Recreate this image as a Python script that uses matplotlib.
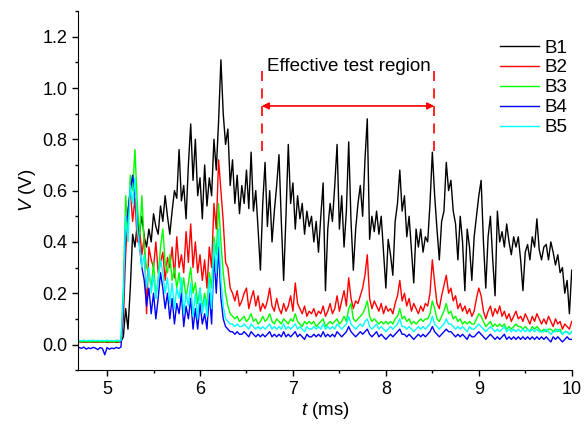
import matplotlib

matplotlib.use("Agg")

import numpy as np
import matplotlib.pyplot as plt
from matplotlib.ticker import MultipleLocator

plt.rcParams["font.family"] = ["Liberation Sans", "DejaVu Sans"]
plt.rcParams["mathtext.fontset"] = "custom"
plt.rcParams["mathtext.rm"] = "Liberation Sans"
plt.rcParams["mathtext.it"] = "Liberation Sans:italic"

B1 = [
    0.012, 0.010, 0.011, 0.009, 0.012, 0.010, 0.011, 0.009, 0.010, 0.012,
    0.010, 0.011, 0.009, 0.012, 0.010, 0.011, 0.009, 0.010, 0.012, 0.030,
    0.14, 0.06, 0.22, 0.43, 0.38, 0.47, 0.44, 0.50, 0.42, 0.38,
    0.45, 0.40, 0.51, 0.46, 0.43, 0.54, 0.48, 0.58, 0.50, 0.43,
    0.52, 0.60, 0.57, 0.76, 0.56, 0.62, 0.49, 0.70, 0.86, 0.64,
    0.80, 0.58, 0.65, 0.49, 0.70, 0.54, 0.65, 0.58, 0.80, 0.68,
    0.87, 1.11, 0.90, 0.78, 0.84, 0.62, 0.72, 0.55, 0.66, 0.51,
    0.62, 0.55, 0.68, 0.53, 0.75, 0.52, 0.60, 0.45, 0.29, 0.55,
    0.71, 0.46, 0.60, 0.40, 0.52, 0.62, 0.74, 0.48, 0.25, 0.50,
    0.78, 0.55, 0.63, 0.45, 0.58, 0.49, 0.55, 0.43, 0.52, 0.46,
    0.50, 0.40, 0.48, 0.36, 0.50, 0.63, 0.21, 0.45, 0.55, 0.48,
    0.62, 0.78, 0.45, 0.58, 0.38, 0.52, 0.79, 0.48, 0.29, 0.45,
    0.55, 0.62, 0.50, 0.72, 0.88, 0.41, 0.50, 0.44, 0.52, 0.43,
    0.50, 0.36, 0.22, 0.41, 0.35, 0.27, 0.48, 0.55, 0.68, 0.52,
    0.58, 0.42, 0.50, 0.37, 0.24, 0.45, 0.38, 0.45, 0.36, 0.42,
    0.40, 0.55, 0.75, 0.58, 0.45, 0.33, 0.48, 0.52, 0.71, 0.60,
    0.64, 0.52, 0.47, 0.33, 0.50, 0.40, 0.21, 0.45, 0.38, 0.25,
    0.42, 0.50, 0.58, 0.64, 0.40, 0.22, 0.42, 0.50, 0.33, 0.19,
    0.52, 0.40, 0.44, 0.38, 0.47, 0.40, 0.35, 0.42, 0.38, 0.42,
    0.33, 0.21, 0.36, 0.39, 0.33, 0.42, 0.38, 0.49, 0.37, 0.33,
    0.38, 0.39, 0.33, 0.40, 0.36, 0.31, 0.35, 0.28, 0.30, 0.20,
    0.25, 0.12, 0.29,
]
B2 = [
    0.010, 0.008, 0.011, 0.009, 0.010, 0.008, 0.011, 0.009, 0.010, 0.009,
    0.010, 0.009, 0.011, 0.008, 0.010, 0.009, 0.011, 0.010, 0.012, 0.10,
    0.35, 0.52, 0.60, 0.48, 0.57, 0.40, 0.45, 0.35, 0.42, 0.12,
    0.38, 0.33, 0.30, 0.40, 0.28, 0.32, 0.36, 0.25, 0.34, 0.30,
    0.38, 0.26, 0.42, 0.30, 0.35, 0.28, 0.44, 0.32, 0.47, 0.30,
    0.40, 0.28, 0.35, 0.25, 0.33, 0.22, 0.38, 0.30, 0.55, 0.45,
    0.72, 0.60, 0.48, 0.32, 0.30, 0.22, 0.20, 0.17, 0.21, 0.15,
    0.17, 0.20, 0.22, 0.14, 0.18, 0.21, 0.15, 0.19, 0.13, 0.16,
    0.14, 0.17, 0.22, 0.15, 0.13, 0.18, 0.14, 0.12, 0.16, 0.13,
    0.15, 0.19, 0.13, 0.24, 0.16, 0.14, 0.12, 0.15, 0.11, 0.13,
    0.12, 0.14, 0.11, 0.13, 0.12, 0.15, 0.11, 0.13, 0.16, 0.12,
    0.14, 0.19, 0.13, 0.17, 0.21, 0.15, 0.26, 0.18, 0.14, 0.17,
    0.16, 0.19, 0.22, 0.27, 0.35, 0.18, 0.14, 0.17, 0.15, 0.13,
    0.16, 0.12, 0.15, 0.13, 0.14, 0.12, 0.16, 0.19, 0.25, 0.17,
    0.20, 0.15, 0.18, 0.13, 0.16, 0.14, 0.12, 0.15, 0.13, 0.16,
    0.15, 0.20, 0.33, 0.24, 0.16, 0.14, 0.19, 0.23, 0.27, 0.20,
    0.22, 0.17, 0.19, 0.14, 0.16, 0.13, 0.15, 0.12, 0.14, 0.11,
    0.13, 0.18, 0.22, 0.19, 0.13, 0.10, 0.13, 0.15, 0.11, 0.14,
    0.12, 0.15, 0.11, 0.13, 0.10, 0.12, 0.09, 0.11, 0.13, 0.10,
    0.11, 0.09, 0.12, 0.10, 0.08, 0.11, 0.09, 0.12, 0.10, 0.08,
    0.10, 0.08, 0.11, 0.09, 0.07, 0.10, 0.08, 0.09, 0.06, 0.08,
    0.07, 0.06, 0.09,
]
B3 = [
    0.012, 0.010, 0.013, 0.011, 0.012, 0.010, 0.013, 0.011, 0.012, 0.011,
    0.012, 0.010, 0.013, 0.011, 0.012, 0.010, 0.013, 0.011, 0.020, 0.22,
    0.58, 0.45, 0.66, 0.60, 0.76, 0.55, 0.42, 0.58, 0.38, 0.30,
    0.28, 0.22, 0.32, 0.18, 0.26, 0.38, 0.45, 0.32, 0.28, 0.35,
    0.25, 0.30, 0.22, 0.28, 0.20, 0.26, 0.18, 0.24, 0.30, 0.20,
    0.24, 0.16, 0.22, 0.14, 0.20, 0.15, 0.28, 0.22, 0.42, 0.35,
    0.55, 0.40, 0.28, 0.20, 0.15, 0.12, 0.11, 0.10, 0.11, 0.09,
    0.10, 0.11, 0.09, 0.10, 0.12, 0.09, 0.10, 0.08, 0.09, 0.11,
    0.09, 0.10, 0.12, 0.09, 0.08, 0.10, 0.09, 0.08, 0.10, 0.09,
    0.08, 0.10, 0.09, 0.12, 0.09, 0.08, 0.07, 0.09, 0.08, 0.09,
    0.08, 0.09, 0.07, 0.08, 0.09, 0.10, 0.07, 0.08, 0.09, 0.08,
    0.09, 0.10, 0.08, 0.09, 0.11, 0.09, 0.14, 0.16, 0.10, 0.09,
    0.10, 0.11, 0.12, 0.14, 0.17, 0.11, 0.09, 0.10, 0.09, 0.08,
    0.09, 0.08, 0.09, 0.08, 0.09, 0.08, 0.10, 0.11, 0.14, 0.10,
    0.11, 0.09, 0.10, 0.08, 0.09, 0.08, 0.09, 0.10, 0.09, 0.10,
    0.10, 0.12, 0.17, 0.14, 0.10, 0.09, 0.11, 0.13, 0.16, 0.12,
    0.13, 0.10, 0.11, 0.09, 0.10, 0.08, 0.09, 0.08, 0.09, 0.08,
    0.08, 0.10, 0.12, 0.11, 0.09, 0.07, 0.08, 0.09, 0.07, 0.08,
    0.07, 0.08, 0.07, 0.08, 0.06, 0.07, 0.06, 0.07, 0.08, 0.07,
    0.07, 0.06, 0.07, 0.06, 0.05, 0.07, 0.06, 0.07, 0.06, 0.05,
    0.06, 0.05, 0.06, 0.06, 0.05, 0.06, 0.05, 0.06, 0.04, 0.05,
    0.05, 0.04, 0.05,
]
B4 = [
    -0.012, -0.015, -0.010, -0.018, -0.013, -0.016, -0.011, -0.014, -0.020, -0.012,
    -0.015, -0.040, -0.012, -0.018, -0.014, -0.016, -0.011, -0.015, -0.010, 0.15,
    0.45, 0.52, 0.60, 0.66, 0.58, 0.48, 0.38, 0.30, 0.25, 0.15,
    0.22, 0.12, 0.20, 0.10, 0.18, 0.28, 0.22, 0.14, 0.20, 0.10,
    0.18, 0.08, 0.16, 0.12, 0.20, 0.07, 0.15, 0.10, 0.18, 0.06,
    0.14, 0.06, 0.16, 0.08, 0.12, 0.06, 0.20, 0.08, 0.35, 0.20,
    0.38, 0.18, 0.10, 0.07, 0.06, 0.05, 0.05, 0.04, 0.05, 0.04,
    0.04, 0.05, 0.04, 0.03, 0.05, 0.04, 0.03, 0.04, 0.03, 0.04,
    0.03, 0.04, 0.05, 0.03, 0.04, 0.03, 0.04, 0.03, 0.05, 0.03,
    0.04, 0.03, 0.04, 0.05, 0.03, 0.04, 0.03, 0.02, 0.04, 0.03,
    0.03, 0.04, 0.03, 0.04, 0.03, 0.05, 0.03, 0.04, 0.03, 0.04,
    0.03, 0.05, 0.04, 0.03, 0.04, 0.05, 0.07, 0.05, 0.04, 0.03,
    0.04, 0.05, 0.04, 0.05, 0.06, 0.04, 0.03, 0.04, 0.05, 0.03,
    0.04, 0.03, 0.02, 0.03, 0.04, 0.03, 0.04, 0.05, 0.06, 0.04,
    0.04, 0.03, 0.04, 0.03, 0.02, 0.03, 0.04, 0.03, 0.04, 0.03,
    0.04, 0.05, 0.07, 0.05, 0.04, 0.03, 0.04, 0.05, 0.06, 0.05,
    0.05, 0.04, 0.03, 0.04, 0.03, 0.04, 0.03, 0.02, 0.04, 0.03,
    0.03, 0.04, 0.05, 0.04, 0.03, 0.02, 0.03, 0.04, 0.03, 0.02,
    0.03, 0.02, 0.03, 0.04, 0.02, 0.03, 0.02, 0.03, 0.02, 0.03,
    0.02, 0.03, 0.02, 0.03, 0.02, 0.03, 0.02, 0.03, 0.02, 0.03,
    0.02, 0.03, 0.02, 0.01, 0.03, 0.02, 0.03, 0.02, 0.01, 0.02,
    0.03, 0.02, 0.02,
]
B5 = [
    0.016, 0.015, 0.017, 0.014, 0.016, 0.015, 0.017, 0.014, 0.016, 0.015,
    0.016, 0.014, 0.017, 0.015, 0.016, 0.014, 0.017, 0.015, 0.016, 0.18,
    0.50, 0.40, 0.62, 0.55, 0.65, 0.45, 0.38, 0.30, 0.35, 0.22,
    0.30, 0.20, 0.27, 0.18, 0.25, 0.33, 0.28, 0.20, 0.26, 0.16,
    0.24, 0.14, 0.22, 0.18, 0.26, 0.12, 0.20, 0.15, 0.24, 0.11,
    0.20, 0.10, 0.22, 0.12, 0.18, 0.11, 0.26, 0.14, 0.40, 0.28,
    0.45, 0.25, 0.15, 0.10, 0.09, 0.08, 0.08, 0.07, 0.08, 0.07,
    0.07, 0.08, 0.07, 0.06, 0.08, 0.07, 0.06, 0.07, 0.06, 0.07,
    0.06, 0.07, 0.08, 0.06, 0.07, 0.06, 0.07, 0.06, 0.08, 0.06,
    0.07, 0.06, 0.07, 0.08, 0.06, 0.07, 0.06, 0.05, 0.07, 0.06,
    0.06, 0.07, 0.06, 0.07, 0.06, 0.08, 0.06, 0.07, 0.06, 0.07,
    0.06, 0.08, 0.07, 0.06, 0.07, 0.08, 0.11, 0.08, 0.07, 0.06,
    0.07, 0.08, 0.07, 0.09, 0.10, 0.07, 0.06, 0.07, 0.08, 0.06,
    0.07, 0.06, 0.05, 0.06, 0.07, 0.06, 0.07, 0.08, 0.10, 0.07,
    0.07, 0.06, 0.07, 0.06, 0.05, 0.06, 0.07, 0.06, 0.07, 0.06,
    0.07, 0.08, 0.11, 0.08, 0.07, 0.06, 0.07, 0.08, 0.10, 0.08,
    0.08, 0.07, 0.06, 0.07, 0.06, 0.07, 0.06, 0.05, 0.07, 0.06,
    0.06, 0.07, 0.08, 0.07, 0.06, 0.05, 0.06, 0.07, 0.06, 0.05,
    0.06, 0.05, 0.06, 0.07, 0.05, 0.06, 0.05, 0.06, 0.05, 0.06,
    0.05, 0.06, 0.05, 0.06, 0.05, 0.06, 0.05, 0.06, 0.05, 0.05,
    0.05, 0.06, 0.05, 0.04, 0.05, 0.05, 0.06, 0.05, 0.04, 0.05,
    0.05, 0.04, 0.05,
]

series = [("B1", B1, "black"), ("B2", B2, "#ff0000"), ("B3", B3, "#00ff00"),
          ("B4", B4, "#0000ff"), ("B5", B5, "#00ffff")]

region_start = 6.665
region_end = 8.52

fig = plt.figure(figsize=(5.84, 4.25), dpi=100)
ax = fig.add_axes([0.134, 0.129, 0.845, 0.845])

for name, vals, col in series:
    t = np.linspace(4.7, 10.0, len(vals))
    ax.plot(t, vals, color=col, lw=1.0, label=name)

ax.set_xlim(4.69, 10.0)
ax.set_ylim(-0.1, 1.3)
ax.xaxis.set_major_locator(MultipleLocator(1))
ax.xaxis.set_minor_locator(MultipleLocator(0.5))
ax.yaxis.set_major_locator(MultipleLocator(0.2))
ax.yaxis.set_minor_locator(MultipleLocator(0.1))
ax.set_yticks([0.0, 0.2, 0.4, 0.6, 0.8, 1.0, 1.2])
ax.tick_params(which="major", length=4, width=1, labelsize=13, pad=4)
ax.tick_params(which="minor", length=2.5, width=1)
ax.spines["top"].set_visible(False)
ax.spines["right"].set_visible(False)
ax.set_xlabel(r"$\it{t}$ (ms)", fontsize=13.5, labelpad=1)
ax.set_ylabel(r"$\it{V}$ (V)", fontsize=13.5, labelpad=3)

# effective test region marker
for xv in (region_start, region_end):
    ax.plot([xv, xv], [0.755, 1.087], color="#ff0000", lw=1.2, ls=(0, (6, 4.5)))
ax.annotate("", xy=(region_end, 0.93), xytext=(region_start, 0.93),
            arrowprops=dict(arrowstyle="<|-|>", color="#ff0000", lw=1.2,
                            mutation_scale=10, shrinkA=0, shrinkB=0))
ax.text(6.72, 1.085, "Effective test region", fontsize=13.5, va="center", ha="left")

ax.legend(loc="upper right", bbox_to_anchor=(1.007, 0.942), frameon=False,
          fontsize=13.5, handlelength=2.1, handletextpad=0.28, labelspacing=0.15,
          borderaxespad=0)

fig.savefig("out.png", dpi=100)
